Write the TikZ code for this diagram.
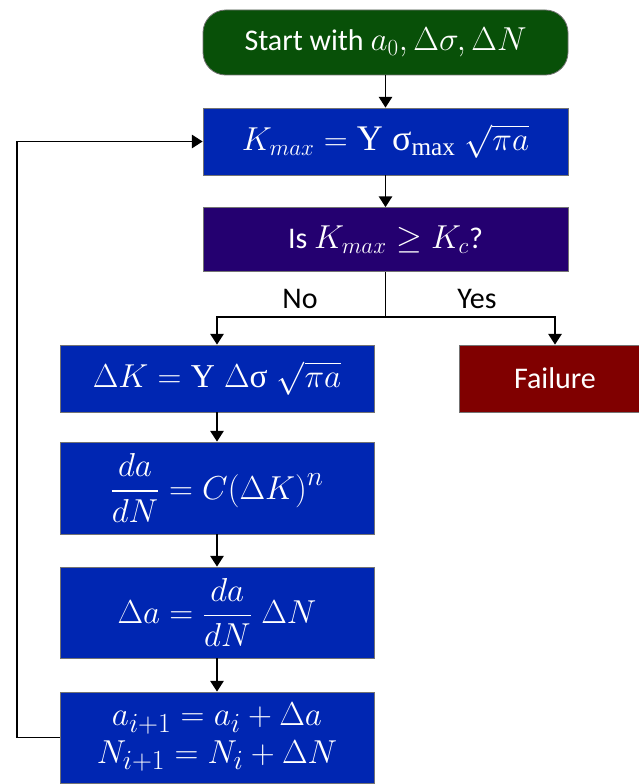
\documentclass[tikz,border=0pt]{standalone}
\usepackage{amsmath}
\usepackage{fontspec}
\setmainfont{Carlito}
\newfontfamily\grfont{Liberation Serif}
\usetikzlibrary{arrows.meta}
\definecolor{startgreen}{RGB}{8,80,8}
\definecolor{kblue}{RGB}{0,38,178}
\definecolor{dpurple}{RGB}{36,0,112}
\definecolor{fred}{RGB}{128,0,0}
\newcommand\mm[2]{{\fontsize{#1}{28}\selectfont$#2$}}
\newcommand\sY{\text{\grfont Y}}
\newcommand\ssig{\text{\grfont σ}}
\newcommand\smax{\text{\grfont max}}
\begin{document}
\begin{tikzpicture}[x=0.75pt,y=-0.75pt,
  blk/.style={rectangle, draw=black!55, line width=0.6pt, text=white, inner sep=0pt,
    font=\fontsize{22.5}{27}\selectfont, align=center},
  arr/.style={draw=black, line width=1.1pt, -{Triangle[width=10pt,length=8pt]}},
  lbl/.style={font=\fontsize{22.5}{27}\selectfont, text=black, inner sep=0pt}]
\useasboundingbox (0,0) rectangle (638,784);
\fill[white] (0,0) rectangle (638,784);

\node[blk, fill=startgreen, rounded corners=17pt, minimum width=273.75pt, minimum height=48.75pt] (start) at (385.5,42.5) {Start with \mm{25}{a_0, \Delta\sigma, \Delta N}};
\node[blk, fill=kblue, minimum width=273.75pt, minimum height=50.25pt] (kmax) at (385.5,141.5) {\mm{27}{K_{max} = \sY\;\ssig_{\smax}\;\sqrt{\pi a}}};
\node[blk, fill=dpurple, minimum width=273.75pt, minimum height=48pt] (dec) at (385.5,239.5) {Is \mm{26}{K_{max} \ge K_c}?};
\node[blk, fill=kblue, minimum width=235.5pt, minimum height=50.25pt] (dk) at (217,378.5) {\mm{25}{\Delta K = \sY\;\Delta\ssig\;\sqrt{\pi a}}};
\node[blk, fill=fred, minimum width=144pt, minimum height=50.25pt] (fail) at (555,378.5) {Failure};
\node[blk, fill=kblue, minimum width=235.5pt, minimum height=69pt] (dadn) at (217,488) {\mm{28}{\displaystyle\frac{da}{dN} = C(\Delta K)^n}};
\node[blk, fill=kblue, minimum width=235.5pt, minimum height=68.25pt] (da) at (217,612.5) {\mm{28}{\Delta a = \displaystyle\frac{da}{dN}\;\Delta N}};
\node[blk, fill=kblue, minimum width=235.5pt, minimum height=68.25pt, font=\fontsize{28}{28}\selectfont] (upd) at (217,737.5) {$a_{i+1} = a_i + \Delta a$\\$N_{i+1} = N_i + \Delta N$};

\coordinate (branch) at (385.5,317);
\coordinate (loopc) at (17,737.5);

\draw[arr] (start) -- (kmax);
\draw[arr] (kmax) -- (dec);
\draw[line width=1.1pt] (dec.south) -- (branch);
\draw[arr] (branch) -| (dk.north);
\draw[arr] (branch) -| (fail.north);
\draw[arr] (dk) -- (dadn);
\draw[arr] (dadn) -- (da);
\draw[arr] (da) -- (upd);
\draw[arr] (upd.west) -- (loopc) |- (kmax.west);

\node[lbl] (no) at (300,299) {No};
\node[lbl] (yes) at (477,299) {Yes};
\end{tikzpicture}
\end{document}
